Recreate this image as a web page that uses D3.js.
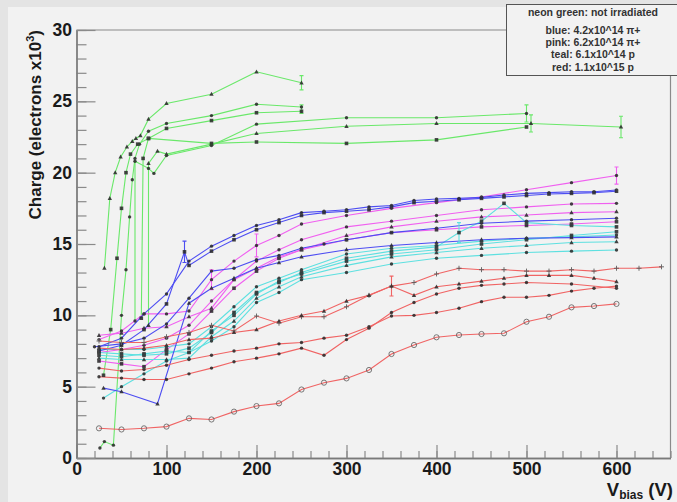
<!DOCTYPE html>
<html>
<head>
<meta charset="utf-8">
<script src="https://cdn.jsdelivr.net/npm/d3@7"></script>
<style>
body { margin: 0; background: #f2f2f2; }
text { font-family: "Liberation Sans", Arial, sans-serif; }
</style>
</head>
<body>
<svg id="chart" width="677" height="502"></svg>
<script>
// --- data: [V bias, charge x10^3] ---
// neon green: not irradiated
var greenCurves = [
  [[31,13.3],[37,18.2],[43,20.0],[49,21.1],[56,21.8],[62,22.2],[66,22.4],[71,22.6],[80,23.75],[100,24.85],[150,25.5],[200,27.07],[250,26.3]],
  [[26,0.7],[31,1.15],[41,0.9],[50,10.0],[55,13.2],[59,16.9],[62,19.5],[65,21.0],[70,22.0],[80,22.9],[100,23.45],[150,24.0],[200,24.8],[250,24.6]],
  [[30,5.8],[38,9.0],[45,14.0],[50,17.5],[55,20.0],[60,21.3],[68,22.0],[80,22.4],[100,23.1],[150,23.65],[200,24.2],[250,24.3]],
  [[65,9.6],[65,20.8],[80,20.3],[86,19.95],[100,21.2],[150,21.9],[200,23.4],[300,23.85],[400,23.85],[500,24.15]],
  [[80,9.3],[80,20.65],[90,21.5],[100,21.3],[150,22.0],[200,22.75],[300,23.25],[400,23.45],[505,23.45],[605,23.2]],
  [[72,9.8],[74,21.0],[80,22.4],[150,22.05],[200,22.15],[300,22.05],[400,22.3],[500,23.2]]
];
// blue: 4.2x10^14 pi+
var blueCurves = [
  [[25,7.8],[50,8.4],[75,10.1],[100,11.5],[125,13.8],[150,14.85],[175,15.6],[200,16.3],[225,16.7],[250,17.2],[275,17.3],[300,17.4],[325,17.6],[350,17.7],[375,18.05],[400,18.15],[425,18.2],[450,18.27],[475,18.43],[500,18.55],[525,18.6],[550,18.66],[575,18.66],[600,18.78]],
  [[25,7.5],[50,7.9],[75,9.0],[100,10.8],[120,14.45],[125,13.5],[150,14.5],[175,15.3],[200,16.0],[225,16.5],[250,17.0],[275,17.2],[300,17.3],[325,17.4],[350,17.6],[375,17.9],[400,18.0],[425,18.1],[450,18.2],[475,18.3],[500,18.4],[525,18.5],[550,18.55],[575,18.6],[600,18.7]],
  [[30,4.9],[50,4.65],[90,3.8],[125,10.85],[150,11.9],[175,12.6],[200,13.3],[225,13.7],[250,14.1],[300,14.6],[350,14.9],[400,15.1],[450,15.3],[500,15.4],[550,15.45],[600,15.5]],
  [[20,7.8],[50,8.0],[75,8.4],[100,9.4],[125,11.2],[150,13.1],[175,13.3],[200,13.9],[225,14.2],[250,14.7],[275,15.0],[300,15.3],[350,15.8],[400,16.1],[450,16.45],[500,16.6],[550,16.7],[600,16.8]]
];
// pink: 6.2x10^14 pi+
var pinkCurves = [
  [[25,8.3],[50,8.9],[75,10.1],[100,10.1],[125,10.3],[150,12.5],[175,13.8],[200,14.9],[225,15.6],[250,16.4],[300,17.0],[350,17.5],[400,17.9],[450,18.3],[500,18.8],[550,19.3],[600,19.8]],
  [[25,8.6],[50,8.75],[75,9.1],[100,9.2],[125,9.9],[150,10.5],[175,12.5],[200,13.3],[225,14.1],[250,14.6],[300,15.6],[350,16.2],[400,16.6],[450,16.9],[500,17.03],[550,17.2],[600,17.26]],
  [[25,7.4],[50,7.6],[75,7.9],[100,8.4],[125,9.3],[150,11.0],[175,12.5],[200,13.8],[225,14.6],[250,15.3],[300,16.2],[350,16.6],[400,17.0],[450,17.4],[500,17.6],[550,17.8],[600,17.85]],
  [[25,6.8],[50,6.6],[75,6.4],[100,7.6],[125,8.7],[150,10.3],[175,11.9],[200,13.1],[225,14.0],[250,14.6],[300,15.3],[350,15.8],[400,16.0],[450,16.2],[500,16.3],[550,16.4],[600,16.56]]
];
// teal: 6.1x10^14 p
var tealCurves = [
  [[30,4.2],[50,5.0],[75,5.9],[100,6.8],[125,7.4],[150,8.2],[175,9.2],[200,10.9],[225,11.6],[250,12.5],[300,13.0],[350,13.6],[400,14.0],[450,14.2],[500,14.4],[550,14.5],[600,14.58]],
  [[25,7.4],[50,7.3],[75,7.2],[100,7.3],[125,7.7],[150,8.8],[175,10.2],[200,11.6],[225,12.3],[250,13.0],[300,14.0],[350,14.5],[400,14.8],[425,15.8],[450,16.6],[475,17.85],[500,16.5],[550,16.3],[600,16.2]],
  [[25,7.0],[50,6.9],[75,6.9],[100,6.9],[125,7.0],[150,8.5],[175,9.6],[200,11.2],[225,12.0],[250,12.7],[300,13.5],[350,14.1],[400,14.4],[450,14.7],[500,14.9],[550,15.1],[600,15.16]],
  [[25,7.6],[50,7.6],[75,7.6],[100,7.8],[125,8.0],[150,9.2],[175,10.6],[200,12.0],[225,12.6],[250,13.2],[300,14.3],[350,14.7],[400,14.9],[450,15.2],[500,15.4],[550,15.5],[600,15.63]],
  [[25,7.2],[50,7.1],[75,7.3],[100,7.5],[125,7.4],[150,8.9],[175,10.0],[200,11.5],[225,12.4],[250,12.9],[300,13.8],[350,14.3],[400,14.6],[450,15.0],[500,15.3],[550,15.6],[600,15.86]]
];
// red: 1.1x10^15 p
var redCurves = [
  [[25,2.08],[50,2.0],[75,2.08],[100,2.2],[125,2.78],[150,2.7],[175,3.25],[200,3.64],[225,3.83],[250,4.8],[275,5.28],[300,5.58],[325,6.17],[350,7.29],[375,7.92],[400,8.46],[425,8.62],[450,8.69],[475,8.74],[500,9.55],[525,9.9],[550,10.56],[575,10.65],[600,10.8]],
  [[25,5.7],[50,5.6],[75,5.5],[100,5.5],[125,5.9],[150,6.3],[175,6.75],[200,7.0],[225,7.3],[250,7.7],[275,7.2],[300,8.3],[325,9.1],[350,10.2],[375,10.9],[400,11.5],[425,11.9],[450,12.1],[475,12.2],[500,12.3],[550,12.2],[600,11.9]],
  [[25,6.3],[50,6.1],[75,6.2],[100,6.5],[125,6.9],[150,7.2],[175,7.5],[200,7.7],[225,8.0],[250,8.1],[275,8.4],[300,8.6],[325,9.2],[350,9.95],[375,10.0],[400,10.2],[425,10.5],[450,10.96],[475,11.27],[500,11.27],[525,11.4],[550,11.7],[575,11.9],[600,12.05]],
  [[25,8.2],[50,8.1],[75,8.1],[100,8.5],[125,8.8],[150,9.3],[175,8.9],[200,9.95],[225,9.45],[250,9.9],[275,9.9],[300,10.6],[325,11.4],[350,12.05],[375,12.3],[400,12.9],[425,13.3],[450,13.2],[475,13.2],[500,13.1],[525,13.1],[550,13.2],[575,13.1],[600,13.3],[625,13.3],[650,13.4]],
  [[25,7.7],[50,7.6],[75,7.7],[100,7.9],[125,8.3],[150,8.4],[175,8.8],[200,9.0],[225,9.6],[250,10.0],[275,10.3],[300,11.0],[325,11.4],[350,12.05],[375,11.4],[400,12.0],[425,12.2],[450,12.4],[475,12.6],[500,12.8],[525,12.8],[550,12.8],[575,12.6],[600,12.36]]
];
// error bars: [colour group, V, charge, error]
var errorBars = [
  ["green",250,26.3,0.5],["green",250,24.45,0.3],["green",500,24.15,0.6],["green",505,23.45,0.6],["green",605,23.2,0.75],
  ["blue",120,14.45,0.75],
  ["pink",600,19.8,0.6],["pink",200,14.9,0.8],["pink",150,12.5,0.7],
  ["teal",425,15.8,0.7],
  ["red",350,12.05,0.7]
];
var legendLines = ["neon green: not irradiated", "blue: 4.2x10^14 \u03c0+", "pink: 6.2x10^14 \u03c0+", "teal: 6.1x10^14 p", "red: 1.1x10^15 p"];
var xMajor = [0,100,200,300,400,500,600];
var yMajor = [0,5,10,15,20,25,30];

// --- drawing ---
var colors = { green: "#6ae86a", blue: "#4d4df2", pink: "#f060f0", teal: "#5ee0e0", red: "#f06464" };
var groups = [
  { key: "green", curves: greenCurves, marks: ["tri","dot","sq","dot","tri","sq"] },
  { key: "pink",  curves: pinkCurves,  marks: ["dot","tri","dot","sq"] },
  { key: "teal",  curves: tealCurves,  marks: ["dot","sq","tri","dot","sq"] },
  { key: "blue",  curves: blueCurves,  marks: ["dot","sq","tri","dot"] },
  { key: "red",   curves: redCurves,   marks: ["oc","dot","dot","plus","tri"] }
];

var svg = d3.select("#chart");
svg.append("rect").attr("width", 677).attr("height", 502).attr("fill", "#e4e4e4");
svg.append("rect").attr("x", 8).attr("y", 7).attr("width", 669).attr("height", 495).attr("fill", "#f2f2f2");

var x = d3.scaleLinear().domain([0, 660]).range([76.5, 670.5]);
var y = d3.scaleLinear().domain([0, 30]).range([458, 30]);

// frame top/right
svg.append("path")
  .attr("d", "M" + x(0) + "," + y(30) + "H" + x(660) + "V" + y(0))
  .attr("fill", "none").attr("stroke", "#8a8a8a").attr("stroke-width", 1.2);

// x axis: minor then major
svg.append("g").attr("transform", "translate(0," + y(0) + ")")
  .call(d3.axisBottom(x).tickValues(d3.range(0, 661, 20)).tickSize(-7).tickSizeOuter(0).tickFormat(""));
svg.append("g").attr("class", "xmaj").attr("transform", "translate(0," + y(0) + ")")
  .call(d3.axisBottom(x).tickValues(xMajor).tickSize(-13).tickSizeOuter(0).tickPadding(5).tickFormat(d3.format("d")));
// y axis
svg.append("g").attr("transform", "translate(" + x(0) + ",0)")
  .call(d3.axisLeft(y).tickValues(d3.range(0, 31, 1)).tickSize(-10).tickSizeOuter(0).tickFormat(""));
svg.append("g").attr("class", "ymaj").attr("transform", "translate(" + x(0) + ",0)")
  .call(d3.axisLeft(y).tickValues(yMajor).tickSize(-19).tickSizeOuter(0).tickPadding(4.5).tickFormat(d3.format("d")));

svg.selectAll(".domain").attr("stroke", "#7a7a7a").attr("stroke-width", 1.3);
svg.selectAll(".tick line").attr("stroke", "#8a8a8a").attr("stroke-width", 1.2);
svg.selectAll(".xmaj text, .ymaj text")
  .attr("font-size", 17.5).attr("font-weight", "bold").attr("fill", "#1a1a1a")
  .attr("font-family", "'Liberation Sans', Arial, sans-serif");

// lines
var line = d3.line().x(function(d) { return x(d[0]); }).y(function(d) { return y(d[1]); });
var plot = svg.append("g");
groups.forEach(function(g) {
  plot.selectAll(null).data(g.curves).enter().append("path")
    .attr("d", line)
    .attr("fill", "none")
    .attr("stroke", colors[g.key])
    .attr("stroke-width", 1.1);
});

// error bars
errorBars.forEach(function(e) {
  var cx = x(e[1]), y1 = y(e[2] - e[3]), y2 = y(e[2] + e[3]);
  plot.append("path")
    .attr("d", "M" + cx + "," + y1 + "V" + y2 + "M" + (cx - 2) + "," + y1 + "H" + (cx + 2) + "M" + (cx - 2) + "," + y2 + "H" + (cx + 2))
    .attr("fill", "none").attr("stroke", colors[e[0]]).attr("stroke-width", 1.1);
});

// markers
function marker(sel, type, cx, cy) {
  var mk = "#262626";
  if (type == "dot") {
    sel.append("circle").attr("cx", cx).attr("cy", cy).attr("r", 1.7).attr("fill", mk);
  } else if (type == "sq") {
    sel.append("rect").attr("x", cx - 1.8).attr("y", cy - 1.8).attr("width", 3.6).attr("height", 3.6).attr("fill", mk);
  } else if (type == "tri") {
    sel.append("path").attr("d", "M" + cx + "," + (cy - 2.4) + "L" + (cx + 2.2) + "," + (cy + 1.6) + "L" + (cx - 2.2) + "," + (cy + 1.6) + "Z").attr("fill", mk);
  } else if (type == "oc") {
    sel.append("circle").attr("cx", cx).attr("cy", cy).attr("r", 2.6).attr("fill", "none").attr("stroke", "#555").attr("stroke-width", 0.9);
  } else if (type == "plus") {
    sel.append("path").attr("d", "M" + (cx - 2.5) + "," + cy + "H" + (cx + 2.5) + "M" + cx + "," + (cy - 2.5) + "V" + (cy + 2.5))
      .attr("stroke", "#555").attr("stroke-width", 1);
  }
}
var marks = svg.append("g").attr("opacity", 0.85);
groups.forEach(function(g) {
  g.curves.forEach(function(c, i) {
    c.forEach(function(p) { marker(marks, g.marks[i], x(p[0]), y(p[1])); });
  });
});

// axis titles
var yt = svg.append("text")
  .attr("transform", "translate(41,30) rotate(-90)")
  .attr("text-anchor", "end").attr("font-size", 17).attr("font-weight", "bold").attr("fill", "#1a1a1a");
yt.append("tspan").text("Charge (electrons x10");
yt.append("tspan").attr("font-size", 11).attr("dy", -7).text("3");
yt.append("tspan").attr("dy", 7).text(")");

var xt = svg.append("text")
  .attr("x", 673).attr("y", 496)
  .attr("text-anchor", "end").attr("font-size", 18.5).attr("font-weight", "bold").attr("fill", "#1a1a1a");
xt.append("tspan").text("V");
xt.append("tspan").attr("font-size", 12).attr("dy", 3).text("bias");
xt.append("tspan").attr("dy", -3).text(" (V)");

// legend
var lg = svg.append("g");
lg.append("rect").attr("x", 506.5).attr("y", 4.5).attr("width", 180).attr("height", 71)
  .attr("fill", "#f2f2f2").attr("stroke", "#555").attr("stroke-width", 1);
lg.selectAll("text").data(legendLines).enter().append("text")
  .attr("x", 593)
  .attr("y", function(d, i) { return i == 0 ? 16 : 21.5 + i * 12.3; })
  .attr("text-anchor", "middle").attr("font-size", 10.5).attr("font-weight", 600).attr("fill", "#333")
  .text(function(d) { return d; });
</script>
</body>
</html>
